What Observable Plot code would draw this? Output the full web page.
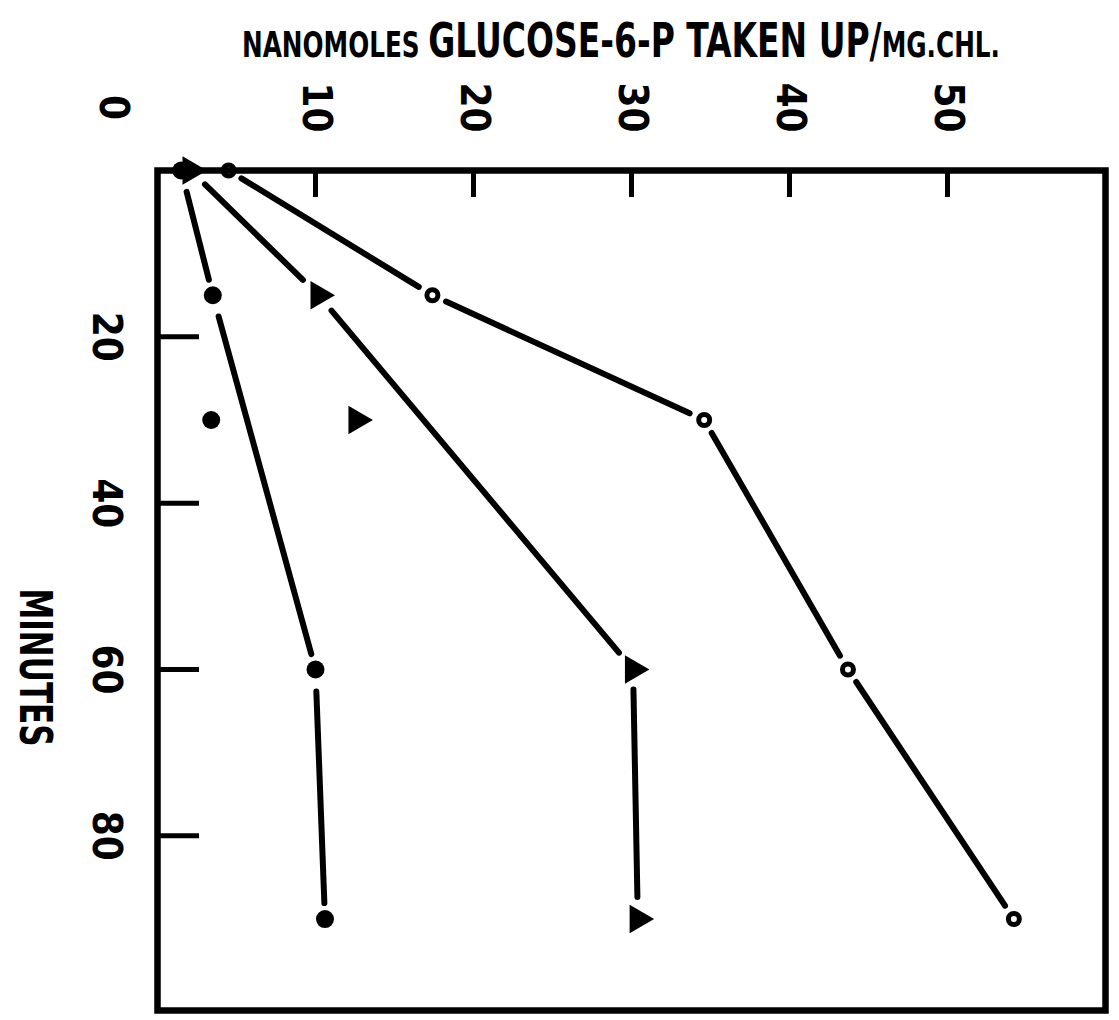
<!DOCTYPE html>
<html>
<head>
<meta charset="utf-8">
<script src="https://cdn.jsdelivr.net/npm/d3@7"></script>
<script src="https://cdn.jsdelivr.net/npm/@observablehq/plot@0.6"></script>
<style>
  body { margin: 0; background: #fff; }
  #titlewrap { height: 70px; position: relative; overflow: visible; }
  #title {
    position: absolute; left: 242px; top: 0; line-height: 80px; white-space: nowrap;
    font-family: "DejaVu Sans Condensed", "DejaVu Sans", sans-serif;
    font-weight: bold; color: #000; display: inline-block; transform-origin: 0 50%;
  }
  #title .big { font-size: 48px; }
  #title .small { font-size: 36px; }
</style>
</head>
<body>
<div id="titlewrap"><div id="title"><span class="small">NANOMOLES </span><span class="big">GLUCOSE-6-P TAKEN UP/</span><span class="small">MG.CHL.</span></div></div>
<div id="chart"></div>
<script>
// Data
const minutes      = [0, 15, 30, 60, 90];
const openCircle   = [4.5, 17.4, 34.6, 43.7, 54.2];
const triangle     = [2.1, 10.2, 12.6, 30.1, 30.4];
const filledCircle = [1.5, 3.5, 3.4, 10.0, 10.6];
// which points are joined by the drawn line
const openJoined     = [true, true, true, true, true];
const triangleJoined = [true, true, false, true, true];
const filledJoined   = [true, true, false, true, true];

const xTicks = [0, 10, 20, 30, 40, 50];
const yTicks = [20, 40, 60, 80];
const yLabel = "MINUTES";

const font = "DejaVu Sans Condensed, DejaVu Sans, sans-serif";

// condense the title to the reference's width
const titleEl = document.getElementById("title");
const natural = titleEl.getBoundingClientRect().width;
titleEl.style.transform = `scaleX(${758 / natural})`;

function points(values) {
  return minutes.map((m, i) => ({t: m, v: values[i]}));
}
function segments(values, joined) {
  const idx = minutes.map((_, i) => i).filter(i => joined[i]);
  const segs = [];
  for (let k = 0; k < idx.length - 1; k++) {
    const a = idx[k], b = idx[k + 1];
    segs.push({t1: minutes[a], v1: values[a], t2: minutes[b], v2: values[b]});
  }
  return segs;
}

const W = 1119, H = 950, mt = 100, mb = 10, ml = 157, mr = 14;
const plotW = W - ml - mr, plotH = H - mt - mb;

const arrowOpts = (s, e) => ({
  x1: "v1", y1: "t1", x2: "v2", y2: "t2",
  headLength: 0, insetStart: s, insetEnd: e,
  stroke: "black", strokeWidth: 6, strokeLinecap: "round"
});

const chart = Plot.plot({
  width: W, height: H,
  marginTop: mt, marginBottom: mb, marginLeft: ml, marginRight: mr,
  x: {domain: [0, 60], axis: null},
  y: {domain: [0, 101], reverse: true, axis: null},
  style: {background: "white"},
  marks: [
    // tick marks drawn inward from the frame
    Plot.tickX(xTicks.filter(d => d > 0), {x: d => d, stroke: "black", strokeWidth: 5, insetBottom: plotH - 27}),
    Plot.tickY(yTicks, {y: d => d, stroke: "black", strokeWidth: 5, insetRight: plotW - 42}),
    // tick labels
    Plot.text(xTicks.filter(d => d > 0), {x: d => d, text: d => String(d), frameAnchor: "top", dy: -63, rotate: 90,
      fontSize: 40, fontWeight: "bold", fontFamily: font, textAnchor: "middle", lineAnchor: "middle", fill: "black"}),
    Plot.text(xTicks.filter(d => d === 0), {x: d => d, text: d => String(d), frameAnchor: "top", dy: -63, dx: -45, rotate: 90,
      fontSize: 40, fontWeight: "bold", fontFamily: font, textAnchor: "middle", lineAnchor: "middle", fill: "black"}),
    Plot.text(yTicks, {y: d => d, text: d => String(d), frameAnchor: "left", dx: -52, rotate: 90,
      fontSize: 40, fontWeight: "bold", fontFamily: font, textAnchor: "middle", lineAnchor: "middle", fill: "black"}),
    Plot.text([yLabel], {text: d => d, frameAnchor: "left", dx: -123, dy: 77, rotate: 90,
      fontSize: 44, fontWeight: "bold", fontFamily: font, textAnchor: "middle", lineAnchor: "middle", fill: "black",
      className: "ylabel"}),
    // connecting lines with gaps near the symbols
    Plot.arrow(segments(openCircle, openJoined), arrowOpts(15, 16)),
    Plot.arrow(segments(triangle, triangleJoined), arrowOpts(20, 22)),
    Plot.arrow(segments(filledCircle, filledJoined), arrowOpts(22, 16)),
    // symbols
    Plot.dot(points(filledCircle), {x: "v", y: "t", r: 9, fill: "black", stroke: "none"}),
    Plot.dot(points(triangle), {x: "v", y: "t", symbol: "triangle", rotate: 90, r: 10.5, fill: "black", stroke: "none"}),
    Plot.dot(points(openCircle), {x: "v", y: "t", r: 5.5, fill: "white", stroke: "black", strokeWidth: 5}),
    Plot.frame({stroke: "black", strokeWidth: 6.5})
  ]
});
// condense the axis title along its reading direction
d3.select(chart).selectAll("text").filter(function () { return this.textContent === yLabel; })
  .attr("textLength", 158).attr("lengthAdjust", "spacingAndGlyphs");
document.getElementById("chart").appendChild(chart);
</script>
</body>
</html>
